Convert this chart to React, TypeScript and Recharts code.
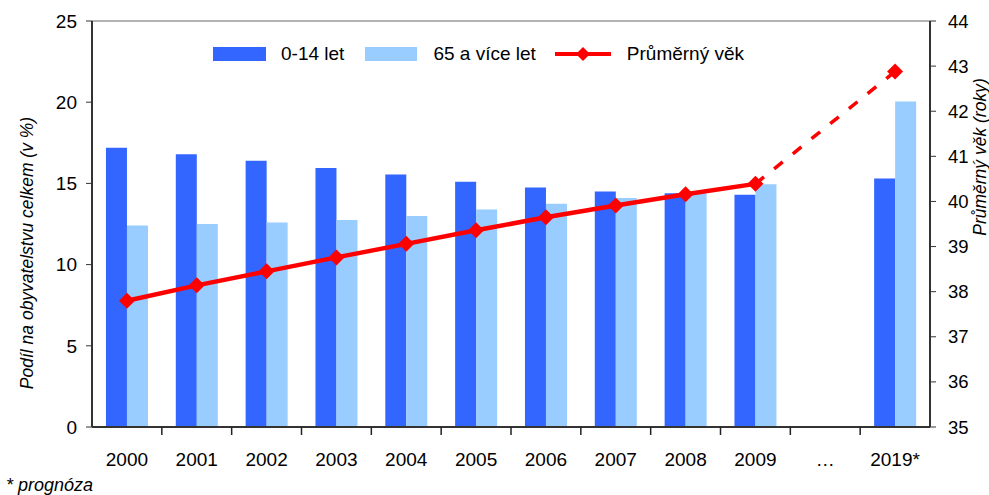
import {
  Bar,
  ComposedChart,
  Legend,
  Line,
  ReferenceLine,
  XAxis,
  YAxis
} from "recharts";

const years = ["2000", "2001", "2002", "2003", "2004", "2005", "2006", "2007", "2008", "2009", "…", "2019*"];
const kids = [17.2, 16.8, 16.4, 15.95, 15.55, 15.1, 14.75, 14.5, 14.4, 14.3, null, 15.3];
const seniors = [12.4, 12.5, 12.6, 12.75, 13.0, 13.4, 13.75, 14.1, 14.4, 14.95, null, 20.05];
const ageActual = [37.8, 38.14, 38.45, 38.76, 39.06, 39.36, 39.65, 39.91, 40.16, 40.39, null, null];
const ageForecast = [null, null, null, null, null, null, null, null, null, 40.39, null, 42.88];
const leftTicks = [0, 5, 10, 15, 20, 25];
const rightTicks = [35, 36, 37, 38, 39, 40, 41, 42, 43, 44];

const data = years.map((year, i) => ({
  year,
  kids: kids[i],
  seniors: seniors[i],
  age: ageActual[i],
  forecast: ageForecast[i]
}));

const WIDTH = 989;
const HEIGHT = 495;
const LEFT_W = 92;
const RIGHT_W = 59;
const BAND = (WIDTH - LEFT_W - RIGHT_W) / years.length;
const FONT = "'Liberation Sans', Arial, sans-serif";
const BLUE = "#3366ff";
const LIGHT = "#99ccff";
const RED = "#ff0000";

function Diamond({ cx, cy, r = 8 }: { cx?: number; cy?: number; r?: number }) {
  if (cx == null || cy == null) return null;
  return <path d={`M${cx},${cy - r}L${cx + r},${cy}L${cx},${cy + r}L${cx - r},${cy}Z`} fill={RED} />;
}

function YearTick(props: any) {
  const { x, y, payload, index } = props;
  return (
    <g>
      {index < years.length - 1 && (
        <line x1={x + BAND / 2} x2={x + BAND / 2} y1={y} y2={y + 8} stroke="#222" strokeWidth={1.5} />
      )}
      <text x={x} y={y + 26} dy="0.71em" textAnchor="middle" fill="#000" fontSize={19} fontFamily={FONT}>
        {payload.value}
      </text>
    </g>
  );
}

function LegendBox() {
  const text = { fontSize: 19, fontFamily: FONT, color: "#000" };
  return (
    <div style={{ display: "flex", alignItems: "center", paddingLeft: 213, height: 22 }}>
      <span style={{ width: 53, height: 14, background: BLUE, display: "inline-block" }} />
      <span style={{ ...text, marginLeft: 15 }}>0-14 let</span>
      <span style={{ width: 52, height: 14, background: LIGHT, display: "inline-block", marginLeft: 21 }} />
      <span style={{ ...text, marginLeft: 16 }}>65 a více let</span>
      <svg width={56} height={18} style={{ marginLeft: 19 }}>
        <line x1={0} x2={56} y1={9} y2={9} stroke={RED} strokeWidth={4} />
        <Diamond cx={28} cy={9} r={7} />
      </svg>
      <span style={{ ...text, marginLeft: 16 }}>Průměrný věk</span>
    </div>
  );
}

export default function App() {
  return (
    <div style={{ position: "absolute", left: 0, top: 0, width: WIDTH, height: HEIGHT, background: "#fff" }}>
      <ComposedChart
        width={WIDTH}
        height={HEIGHT}
        data={data}
        margin={{ top: 21, right: 0, bottom: 0, left: 0 }}
        barCategoryGap="20%"
        barGap={0}
      >
        <XAxis
          dataKey="year"
          height={68}
          tickLine={false}
          tickSize={0}
          tickMargin={0}
          axisLine={{ stroke: "#333", strokeWidth: 2 }}
          tick={<YearTick />}
          interval={0}
        />
        <YAxis
          yAxisId="left"
          width={LEFT_W}
          domain={[0, 25]}
          ticks={leftTicks}
          tickSize={6}
          tickMargin={9}
          axisLine={{ stroke: "#333", strokeWidth: 2 }}
          tickLine={{ stroke: "#333" }}
          tick={{ fill: "#000", fontSize: 19, fontFamily: FONT }}
          label={{
            value: "Podíl na obyvatelstvu celkem (v %)",
            angle: -90,
            position: "insideLeft",
            dx: 22,
            dy: 29,
            style: { fontSize: 17.5, fontStyle: "italic", fontFamily: FONT, fill: "#000", textAnchor: "middle" }
          }}
        />
        <YAxis
          yAxisId="right"
          orientation="right"
          width={RIGHT_W}
          domain={[35, 44]}
          ticks={rightTicks}
          tickSize={6}
          tickMargin={12}
          axisLine={{ stroke: "#333", strokeWidth: 2 }}
          tickLine={{ stroke: "#333" }}
          tick={{ fill: "#000", fontSize: 18.5, fontFamily: FONT }}
          label={{
            value: "Průměrný věk (roky)",
            angle: -90,
            position: "insideRight",
            dx: -4,
            dy: -67,
            style: { fontSize: 17.5, fontStyle: "italic", fontFamily: FONT, fill: "#000", textAnchor: "middle" }
          }}
        />
        <ReferenceLine yAxisId="left" y={25} stroke="#999" strokeWidth={1.5} />
        <Legend verticalAlign="middle" wrapperStyle={{ top: 43, left: 0, width: WIDTH }} content={<LegendBox />} />
        <Bar yAxisId="left" dataKey="kids" name="0-14 let" fill={BLUE} isAnimationActive={false} />
        <Bar yAxisId="left" dataKey="seniors" name="65 a více let" fill={LIGHT} isAnimationActive={false} />
        <Line
          yAxisId="right"
          dataKey="forecast"
          stroke={RED}
          strokeWidth={3.5}
          strokeDasharray="11 13"
          connectNulls
          dot={(p: any) => (p.index === years.length - 1 ? <Diamond key={p.index} cx={p.cx} cy={p.cy} /> : <g key={p.index} />)}
          activeDot={false}
          legendType="none"
          isAnimationActive={false}
        />
        <Line
          yAxisId="right"
          dataKey="age"
          name="Průměrný věk"
          stroke={RED}
          strokeWidth={4.5}
          dot={(p: any) => <Diamond key={p.index} cx={p.cx} cy={p.cy} />}
          activeDot={false}
          isAnimationActive={false}
        />
      </ComposedChart>
      <div
        style={{
          position: "absolute",
          left: 6,
          top: 475,
          fontSize: 18,
          fontStyle: "italic",
          fontFamily: FONT,
          color: "#000"
        }}
      >
        * prognóza
      </div>
    </div>
  );
}
